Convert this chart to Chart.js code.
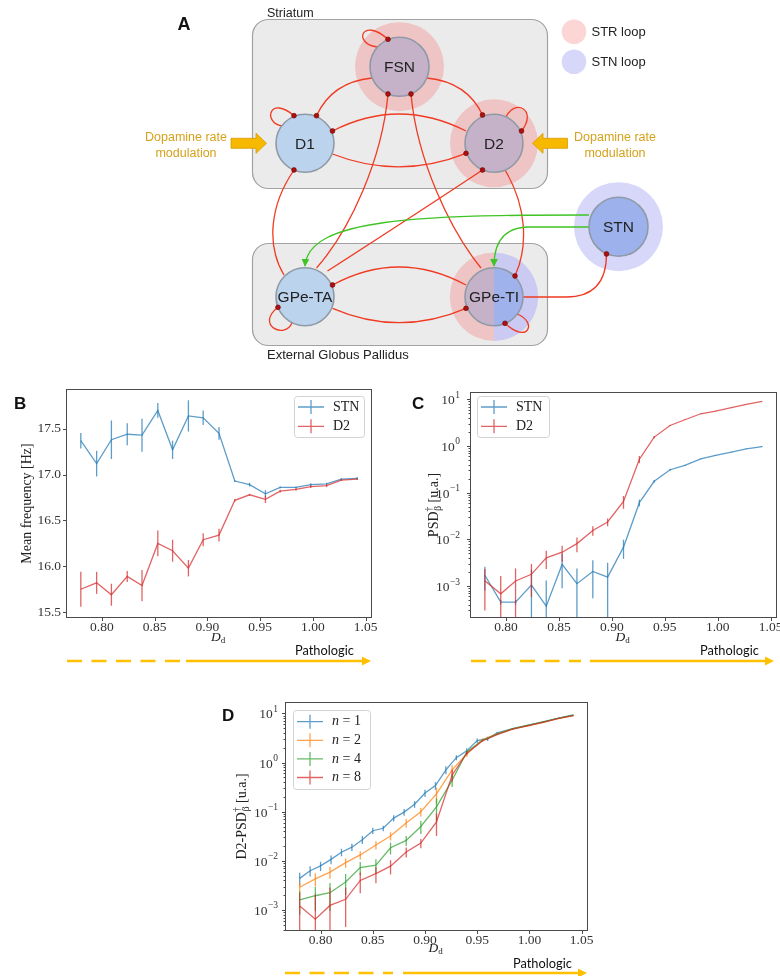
<!DOCTYPE html>
<html><head><meta charset="utf-8">
<script src="https://cdn.jsdelivr.net/npm/chart.js@4.4.1/dist/chart.umd.min.js"></script>
<style>
html,body{margin:0;padding:0;background:#fff;}
body{width:780px;height:976px;position:relative;overflow:hidden;}
canvas.ch{position:absolute;}
#ov{position:absolute;left:0;top:0;width:780px;height:976px;pointer-events:none;}
</style></head>
<body>
<canvas id="cB" class="ch" width="392" height="275" style="left:0px;top:370px;width:392px;height:275px"></canvas>
<canvas id="cC" class="ch" width="400" height="275" style="left:400px;top:370px;width:400px;height:275px"></canvas>
<canvas id="cD" class="ch" width="410" height="270" style="left:200px;top:680px;width:410px;height:270px"></canvas>

<svg id="ov" width="780" height="976" viewBox="0 0 780 976" xmlns="http://www.w3.org/2000/svg">
 <defs>
  <marker id="gArrow" viewBox="0 0 10 10" refX="9" refY="5" markerWidth="6" markerHeight="6" orient="auto">
   <path d="M0,0 L10,5 L0,10 z" fill="#3fc424"/>
  </marker>
 </defs>
 <!-- ===== Panel A diagram ===== -->
 <g font-family="'Liberation Sans', Arial, sans-serif">
  <text x="184" y="30" font-size="18" font-weight="bold" text-anchor="middle" fill="#111">A</text>
  <rect x="252.5" y="19.5" width="295" height="169" rx="16" fill="#ebebeb" stroke="#a2a2a2" stroke-width="1.2"/>
  <text x="267" y="17" font-size="12.5" fill="#222" font-family="'Liberation Sans Narrow','Liberation Sans',sans-serif">Striatum</text>
  <rect x="252.5" y="243.5" width="295" height="102" rx="16" fill="#ebebeb" stroke="#a2a2a2" stroke-width="1.2"/>
  <text x="267" y="358.5" font-size="13" fill="#222" font-family="'Liberation Sans Narrow','Liberation Sans',sans-serif">External Globus Pallidus</text>

  <!-- halos -->
  <circle cx="399.5" cy="66.7" r="44.5" fill="#efc4c4"/>
  <circle cx="494" cy="143.3" r="44" fill="#efc4c4"/>
  <circle cx="618.5" cy="226.7" r="44.5" fill="#d7d7fa"/>
  <path d="M494,252.5 A44.2,44.2 0 0 0 494,340.9 Z" fill="#efc4c4"/>
  <path d="M494,252.5 A44.2,44.2 0 0 1 494,340.9 Z" fill="#cacaf3"/>

  <!-- legend of panel A -->
  <circle cx="574" cy="31.7" r="12.3" fill="#fcd5d5"/>
  <text x="591.5" y="36.3" font-size="13" fill="#222">STR loop</text>
  <circle cx="574" cy="61.7" r="12.3" fill="#d7d7fa"/>
  <text x="591.5" y="66.3" font-size="13" fill="#222">STN loop</text>

  <!-- red connections -->
  <g fill="none" stroke="#f03a22" stroke-width="1.3">
   <path d="M372,78 Q332,82 316.5,115.7"/>
   <path d="M427,78 Q467,82 482.5,115"/>
   <path d="M332.5,131 Q399,97 466,131"/>
   <path d="M332.5,154 Q399,180 466,153.3"/>
   <path d="M388,94 C382,160 350,230 316.5,268"/>
   <path d="M411,94 C417,160 450,230 481,268"/>
   <path d="M294,170 C270,205 266,245 284,275"/>
   <path d="M482.5,170 Q410,218 327.5,271"/>
   <path d="M505,170 C526,205 529,245 515,276"/>
   <path d="M332.5,285 Q399,249 466,285"/>
   <path d="M332.5,308.3 Q399,337 466,308.3"/>
   <path d="M523,297 L566,297 Q606.5,297 606.5,254"/>
   <path d="M377.5,47 C352,44 362,16 388,39.3"/>
   <path d="M282,126 C262,122 270,95 294,115.7"/>
   <path d="M506,117 C515,98 538,110 521.5,131"/>
   <path d="M292,322.7 C285,340 255,325 278,307.3"/>
   <path d="M517,314 C538,322 528,345 505,323.3"/>
  </g>
  <!-- green connections -->
  <g fill="none" stroke="#3fc424" stroke-width="1.3">
   <path d="M589,215 C420,215 308,218 305,266" marker-end="url(#gArrow)"/>
   <path d="M589,227 L528,227 Q494,228 494,266" marker-end="url(#gArrow)"/>
  </g>

  <!-- nodes -->
  <g stroke="#8f9aa6" stroke-width="1.6">
   <circle cx="399.5" cy="66.7" r="29.5" fill="#c5b2c8"/>
   <circle cx="305" cy="143.3" r="29" fill="#bcd3ee"/>
   <circle cx="494" cy="143.3" r="29" fill="#c5b2c8"/>
   <circle cx="305" cy="296.7" r="29" fill="#bcd3ee"/>
   <circle cx="618.5" cy="226.7" r="29.5" fill="#9db1ec"/>
  </g>
  <path d="M494,267.7 A29,29 0 0 0 494,325.7 Z" fill="#c5b2c8"/>
  <path d="M494,267.7 A29,29 0 0 1 494,325.7 Z" fill="#9fb2ec"/>
  <circle cx="494" cy="296.7" r="29" fill="none" stroke="#8f9aa6" stroke-width="1.6"/>

  <!-- synapse dots -->
  <g fill="#b01010" stroke="#600" stroke-width="0.6">
   <circle cx="388" cy="39.3" r="2.4"/><circle cx="388" cy="94" r="2.4"/><circle cx="411" cy="94" r="2.4"/>
   <circle cx="294" cy="115.7" r="2.4"/><circle cx="316.5" cy="115.7" r="2.4"/><circle cx="332.5" cy="131" r="2.4"/><circle cx="294" cy="170" r="2.4"/>
   <circle cx="482.5" cy="115" r="2.4"/><circle cx="521.5" cy="131" r="2.4"/><circle cx="466" cy="153.3" r="2.4"/><circle cx="482.5" cy="170" r="2.4"/>
   <circle cx="332.5" cy="285" r="2.4"/><circle cx="278" cy="307.3" r="2.4"/>
   <circle cx="466" cy="308.3" r="2.4"/><circle cx="515" cy="276" r="2.4"/><circle cx="505" cy="323.3" r="2.4"/>
   <circle cx="606.5" cy="254" r="2.4"/>
  </g>

  <!-- node labels -->
  <g font-size="15.5" fill="#222" text-anchor="middle">
   <text x="399.5" y="72">FSN</text>
   <text x="305" y="148.8">D1</text>
   <text x="494" y="148.8">D2</text>
   <text x="305" y="302.2">GPe-TA</text>
   <text x="494" y="302.2">GPe-TI</text>
   <text x="618.5" y="232.2">STN</text>
  </g>

  <!-- dopamine modulation -->
  <g font-size="12.5" fill="#d6a21c" text-anchor="middle">
   <text x="186" y="141">Dopamine rate</text>
   <text x="186" y="156.5">modulation</text>
   <text x="615" y="141">Dopamine rate</text>
   <text x="615" y="156.5">modulation</text>
  </g>
  <path d="M231,138.3 L256,138.3 L256,133.3 L266.5,143.3 L256,153.3 L256,148.3 L231,148.3 Z" fill="#f7b900" stroke="#d69a00" stroke-width="0.8"/>
  <path d="M567.5,138.3 L543,138.3 L543,133.3 L532.5,143.3 L543,153.3 L543,148.3 L567.5,148.3 Z" fill="#f7b900" stroke="#d69a00" stroke-width="0.8"/>
 </g>

 <!-- ===== panel letters ===== -->
 <g font-family="'Liberation Sans', Arial, sans-serif" font-size="17" font-weight="bold" fill="#111">
  <text x="14" y="408.5">B</text>
  <text x="412" y="408.5">C</text>
  <text x="222" y="720.5">D</text>
 </g>

 <!-- ===== axis titles ===== -->
 <g font-family="'Liberation Serif', 'DejaVu Serif', serif" font-size="14" fill="#222">
  <text transform="translate(31,503.5) rotate(-90)" text-anchor="middle">Mean frequency [Hz]</text>
  <text transform="translate(438,505) rotate(-90)" text-anchor="middle">PSD<tspan font-size="9.5" dy="-6">†</tspan><tspan font-size="9.5" dx="-4" dy="9">β</tspan><tspan dy="-3"> [u.a.]</tspan></text>
  <text transform="translate(246,816.5) rotate(-90)" text-anchor="middle">D2-PSD<tspan font-size="9.5" dy="-6">†</tspan><tspan font-size="9.5" dx="-4" dy="9">β</tspan><tspan dy="-3"> [u.a.]</tspan></text>
 </g>
 <g font-family="'Liberation Serif', 'DejaVu Serif', serif" font-size="13.5" fill="#222">
  <text x="218" y="640.5" text-anchor="middle"><tspan font-style="italic">D</tspan><tspan font-size="9" dy="2.5">d</tspan></text>
  <text x="622.5" y="640.5" text-anchor="middle"><tspan font-style="italic">D</tspan><tspan font-size="9" dy="2.5">d</tspan></text>
  <text x="435.5" y="951.5" text-anchor="middle"><tspan font-style="italic">D</tspan><tspan font-size="9" dy="2.5">d</tspan></text>
 </g>

 <!-- ===== Pathologic arrows ===== -->
 <g font-family="Lato, 'Open Sans', sans-serif" font-size="12.8" fill="#111">
  <text x="295" y="654.5">Pathologic</text>
  <text x="700" y="655">Pathologic</text>
  <text x="513" y="968">Pathologic</text>
 </g>
 <g stroke="#ffc000" stroke-width="2.4" fill="none">
  <line x1="67" y1="661" x2="183" y2="661" stroke-dasharray="15 9.5"/>
  <line x1="186" y1="661" x2="364" y2="661"/>
  <line x1="471" y1="661" x2="581" y2="661" stroke-dasharray="15 9.5"/>
  <line x1="590" y1="661" x2="767" y2="661"/>
  <line x1="285" y1="973" x2="393" y2="973" stroke-dasharray="15 9.5"/>
  <line x1="403" y1="973" x2="580" y2="973"/>
 </g>
 <g fill="#ffc000">
  <path d="M362,656.5 L371,661 L362,665.5 Z"/>
  <path d="M765,656.5 L774,661 L765,665.5 Z"/>
  <path d="M578,968.5 L587,973 L578,977.5 Z"/>
 </g>
</svg>

<script>
// ================= DATA =================
const dd = [0.780,0.795,0.809,0.824,0.838,0.853,0.867,0.882,0.896,0.911,0.926,0.940,0.955,0.969,0.984,0.998,1.013,1.027,1.042];

// Panel B: mean frequency [Hz]
const stnFreq    = [17.37,17.12,17.38,17.44,17.43,17.70,17.27,17.64,17.62,17.45,16.93,16.89,16.79,16.86,16.86,16.89,16.90,16.95,16.96];
const stnFreqErr = [0.085,0.14,0.21,0.12,0.18,0.08,0.10,0.17,0.08,0.07,0.01,0.02,0.04,0.01,0.01,0.015,0.01,0.01,0.015];
const d2Freq     = [15.75,15.82,15.69,15.89,15.79,16.25,16.17,15.98,16.29,16.34,16.72,16.78,16.73,16.82,16.84,16.87,16.88,16.94,16.95];
const d2FreqErr  = [0.19,0.12,0.12,0.06,0.17,0.14,0.12,0.09,0.07,0.07,0.015,0.01,0.04,0.015,0.015,0.015,0.015,0.01,0.01];

// Panel C: beta PSD [u.a.]
const stnPsd    = [1.7e-3,4.5e-4,4.5e-4,1.05e-3,3.7e-4,2.9e-3,1.12e-3,2.05e-3,1.55e-3,6.8e-3,0.061,0.175,0.31,0.385,0.53,0.63,0.74,0.87,0.97];
const stnPsdErr = [0.9e-3,0.5e-4,0.5e-4,1.2e-3,0.95e-3,2.0e-3,1.25e-3,1.5e-3,1.6e-3,3.0e-3,0.01,0.012,0.015,0.01,0.01,0.01,0.01,0.01,0.02];
const d2Psd     = [1.3e-3,6.8e-4,1.28e-3,1.78e-3,4.0e-3,5.3e-3,8.1e-3,1.55e-2,2.35e-2,0.065,0.52,1.55,2.75,3.65,4.9,5.6,6.6,7.8,9.0];
const d2PsdErr  = [1.0e-3,0.95e-3,1.1e-3,1.2e-3,1.7e-3,2.0e-3,2.8e-3,3.5e-3,4.5e-3,0.02,0.09,0.08,0.08,0.06,0.06,0.06,0.06,0.06,0.06];

// Panel D: D2 beta PSD for n = 1, 2, 4, 8
const ddN1   = [0.78,0.79,0.80,0.81,0.82,0.83,0.84,0.85,0.86,0.87,0.88,0.89,0.90,0.91,0.92,0.93,0.94,0.95,0.96,0.969,0.984,0.998,1.013,1.027,1.042];
const n1Psd  = [4.4e-3,6.3e-3,7.9e-3,1.07e-2,1.5e-2,1.9e-2,2.7e-2,4.1e-2,4.6e-2,7.4e-2,9.8e-2,0.142,0.24,0.34,0.71,1.26,1.73,2.8,3.05,4.0,4.9,5.7,6.7,7.9,9.3];
const n1Err  = [1.3e-3,1.5e-3,1.7e-3,2.2e-3,2.6e-3,3.2e-3,5e-3,6e-3,6e-3,1.1e-2,1.5e-2,2.2e-2,0.04,0.06,0.13,0.15,0.22,0.3,0.3,0.15,0.12,0.1,0.1,0.1,0.1];
const n2Psd  = [2.9e-3,4.3e-3,5.9e-3,9.2e-3,1.32e-2,2.1e-2,3.2e-2,5.9e-2,0.1,0.23,0.71,1.5,2.95,3.85,4.85,5.6,6.6,7.8,9.0];
const n2Err  = [0.8e-3,1.3e-3,1.6e-3,2e-3,2.5e-3,4e-3,6e-3,1.2e-2,0.02,0.08,0.17,0.2,0.15,0.1,0.1,0.1,0.1,0.1,0.1];
const n4Psd  = [1.6e-3,1.95e-3,2.25e-3,3.7e-3,7.3e-3,8.2e-3,1.85e-2,2.6e-2,0.05,0.125,0.44,1.65,2.85,3.8,4.9,5.7,6.7,7.9,9.2];
const n4Err  = [0.8e-3,1.0e-3,1.3e-3,1.7e-3,2.2e-3,2.6e-3,5e-3,6e-3,0.015,0.06,0.12,0.15,0.12,0.1,0.1,0.1,0.1,0.1,0.1];
const n8Psd  = [1.2e-3,6.5e-4,1.24e-3,1.65e-3,4.0e-3,5.5e-3,7.8e-3,1.52e-2,2.3e-2,0.062,0.56,1.55,2.75,3.7,4.8,5.6,6.6,7.8,9.0];
const n8Err  = [1.0e-3,1.45e-3,1.6e-3,1.2e-3,1.8e-3,2.0e-3,2.5e-3,3.5e-3,5e-3,0.03,0.15,0.12,0.1,0.08,0.08,0.08,0.08,0.08,0.08];

// Tick values / labels
const xTicks       = [0.80,0.85,0.90,0.95,1.00,1.05];
const freqTicks    = [15.5,16.0,16.5,17.0,17.5];
const logTicks     = [1e-3,1e-2,1e-1,1,10];
const logTickExp   = ['−3','−2','−1','0','1'];   // labels 10^exp
// axis limits (log panels)
const psdLimC = [Math.pow(10,-3.664), Math.pow(10,1.135)];
const psdLimD = [Math.pow(10,-3.407), Math.pow(10,1.212)];

// ================= helpers =================
const COL = {
  blue:'rgba(31,119,180,0.72)', orange:'rgba(255,127,14,0.72)',
  green:'rgba(44,160,44,0.72)', red:'rgba(214,39,40,0.72)'
};
function pad5(lo, hi){ const r = hi-lo; return [lo-0.05*r, hi+0.05*r]; }
const xLim = pad5(Math.min(...dd, ...ddN1), Math.max(...dd, ...ddN1));
const freqLim = pad5(
  Math.min(...stnFreq.map((v,i)=>v-stnFreqErr[i]), ...d2Freq.map((v,i)=>v-d2FreqErr[i])),
  Math.max(...stnFreq.map((v,i)=>v+stnFreqErr[i]), ...d2Freq.map((v,i)=>v+d2FreqErr[i])));

function series(label, xs, ys, errs, color, order){
  return {label, data: xs.map((x,i)=>({x, y: ys[i]})), yErr: errs,
    borderColor: color, backgroundColor: color, showLine: true, pointRadius: 0,
    borderWidth: 1.3, order, clip: 0};
}

const SERIF = "'Liberation Serif', 'DejaVu Serif', serif";

// error bars, drawn right after each dataset line
const errorBars = {
  id:'errorBars',
  afterDatasetDraw(chart, args){
    const ds = chart.data.datasets[args.index];
    if(!ds.yErr) return;
    const {ctx, chartArea:a, scales:{x,y}} = chart;
    ctx.save();
    ctx.beginPath(); ctx.rect(a.left, a.top, a.right-a.left, a.bottom-a.top); ctx.clip();
    ctx.strokeStyle = ds.borderColor; ctx.lineWidth = 1.3;
    ds.data.forEach((p,i)=>{
      const e = ds.yErr[i]; if(!e) return;
      const px = x.getPixelForValue(p.x);
      let lo = p.y - e, hi = p.y + e;
      let pLo;
      if(y.type==='logarithmic' && lo <= y.min) pLo = a.bottom + 2; else pLo = y.getPixelForValue(lo);
      const pHi = y.getPixelForValue(hi);
      ctx.beginPath(); ctx.moveTo(px, pLo); ctx.lineTo(px, pHi); ctx.stroke();
    });
    ctx.restore();
  }
};

// matplotlib-like frame + outward ticks (+ mathtext-like log labels)
const mplAxes = {
  id:'mplAxes',
  afterDraw(chart, args, o){
    const {ctx, chartArea:a, scales:{x,y}} = chart;
    ctx.save();
    ctx.strokeStyle = '#4a4a4a'; ctx.lineWidth = 1;
    const L = Math.round(a.left)-0.5, T = Math.round(a.top)-0.5, R = Math.round(a.right)+0.5, B = Math.round(a.bottom)+0.5;
    ctx.strokeRect(L, T, R-L, B-T);
    ctx.beginPath();
    x.ticks.forEach(t=>{ const px = Math.round(x.getPixelForValue(t.value))+0.5; ctx.moveTo(px,B); ctx.lineTo(px,B+3.5); });
    y.ticks.forEach(t=>{ const py = Math.round(y.getPixelForValue(t.value))+0.5; ctx.moveTo(L,py); ctx.lineTo(L-3.5,py); });
    ctx.stroke();
    if(y.type==='logarithmic'){
      ctx.beginPath();
      for(let k=-5;k<=2;k++){
        for(let m=2;m<=9;m++){
          const v = m*Math.pow(10,k);
          if(v<y.min || v>y.max) continue;
          const py = Math.round(y.getPixelForValue(v))+0.5;
          ctx.moveTo(L,py); ctx.lineTo(L-2,py);
        }
      }
      ctx.stroke();
      // labels 10^k
      const gap = (o && o.logGap) || 9;
      ctx.fillStyle = '#333'; ctx.textAlign = 'left'; ctx.textBaseline = 'alphabetic';
      logTicks.forEach((v,i)=>{
        if(v<y.min || v>y.max) return;
        const py = y.getPixelForValue(v);
        ctx.font = '13.5px ' + SERIF; const wb = ctx.measureText('10').width;
        ctx.font = '9.5px ' + SERIF; const we = ctx.measureText(logTickExp[i]).width;
        const x0 = L - gap - we - wb;
        ctx.font = '13.5px ' + SERIF; ctx.fillText('10', x0, py + 5);
        ctx.font = '9.5px ' + SERIF; ctx.fillText(logTickExp[i], x0 + wb + 0.5, py - 1.5);
      });
    }
    ctx.restore();
  }
};

// matplotlib-like legend for errorbar series
const mplLegend = {
  id:'mplLegend',
  afterDraw(chart, args, o){
    if(!o || !o.w) return;
    const {ctx, chartArea:a} = chart;
    const bx = o.align==='right' ? a.right - o.dx - o.w : a.left + o.dx;
    const by = a.top + o.dy;
    ctx.save();
    ctx.fillStyle = 'rgba(255,255,255,0.85)'; ctx.strokeStyle = '#d2d2d2'; ctx.lineWidth = 1;
    ctx.beginPath(); ctx.roundRect(bx+0.5, by+0.5, o.w, o.h, 3); ctx.fill(); ctx.stroke();
    const dsets = chart.data.datasets;
    dsets.forEach((ds,i)=>{
      const cy = by + o.first + i*o.step;
      ctx.strokeStyle = ds.borderColor; ctx.lineWidth = 1.3;
      ctx.beginPath(); ctx.moveTo(bx+4, cy); ctx.lineTo(bx+30, cy);
      ctx.moveTo(bx+17, cy-7); ctx.lineTo(bx+17, cy+7); ctx.stroke();
      ctx.fillStyle = '#222'; ctx.textBaseline = 'middle'; ctx.textAlign='left';
      const tx = bx + 39;
      if(o.italicPrefix){
        ctx.font = 'italic 14px ' + SERIF;
        ctx.fillText('n', tx, cy);
        const w = ctx.measureText('n').width;
        ctx.font = '14px ' + SERIF;
        ctx.fillText(' = ' + ds.label.split('=')[1].trim(), tx + w, cy);
      } else {
        ctx.font = '14px ' + SERIF;
        ctx.fillText(ds.label, tx, cy);
      }
    });
    ctx.restore();
  }
};

function axisX(height){
  return {type:'linear', min:xLim[0], max:xLim[1],
    afterBuildTicks: s=>{ s.ticks = xTicks.map(v=>({value:v})); },
    afterFit: s=>{ s.height = height; },
    grid:{display:false, drawTicks:false}, border:{display:false},
    ticks:{font:{family:SERIF,size:13.5}, color:'#333', padding:2, maxRotation:0, autoSkip:false,
      callback:v=>Number(v).toFixed(2)}};
}
function axisYLin(width){
  return {type:'linear', min:freqLim[0], max:freqLim[1],
    afterBuildTicks: s=>{ s.ticks = freqTicks.map(v=>({value:v})); },
    afterFit: s=>{ s.width = width; },
    grid:{display:false, drawTicks:false}, border:{display:false},
    ticks:{font:{family:SERIF,size:13.5}, color:'#333', padding:6, autoSkip:false,
      callback:v=>Number(v).toFixed(1)}};
}
function axisYLog(width, lim){
  return {type:'logarithmic', min:lim[0], max:lim[1],
    afterBuildTicks: s=>{ s.ticks = logTicks.map(v=>({value:v, major:true})); },
    afterFit: s=>{ s.width = width; },
    grid:{display:false, drawTicks:false}, border:{display:false},
    ticks:{font:{family:SERIF,size:13.5}, color:'#333', padding:6, autoSkip:false,
      callback:()=>''}};
}
const common = {responsive:false, animation:false, devicePixelRatio:1, events:[]};

// ---- Panel B ----
new Chart(document.getElementById('cB'), {
  type:'scatter',
  data:{datasets:[
    series('STN', dd, stnFreq, stnFreqErr, COL.blue, 2),
    series('D2',  dd, d2Freq,  d2FreqErr,  COL.red, 1)
  ]},
  options:Object.assign({}, common, {
    layout:{padding:{left:0, top:20, right:21, bottom:0}},
    scales:{x:axisX(28), y:axisYLin(67)},
    plugins:{legend:{display:false}, tooltip:{enabled:false},
      mplLegend:{align:'right', dx:7, dy:6, w:70, h:41, first:11, step:19.3}}
  }),
  plugins:[errorBars, mplAxes, mplLegend]
});

// ---- Panel C ----
new Chart(document.getElementById('cC'), {
  type:'scatter',
  data:{datasets:[
    series('STN', dd, stnPsd, stnPsdErr, COL.blue, 2),
    series('D2',  dd, d2Psd,  d2PsdErr,  COL.red, 1)
  ]},
  options:Object.assign({}, common, {
    layout:{padding:{left:0, top:23, right:24, bottom:0}},
    scales:{x:axisX(28), y:axisYLog(71, psdLimC)},
    plugins:{legend:{display:false}, tooltip:{enabled:false},
      mplAxes:{logGap:11},
      mplLegend:{align:'left', dx:6, dy:3, w:72, h:41, first:11, step:19.3}}
  }),
  plugins:[errorBars, mplAxes, mplLegend]
});

// ---- Panel D ----
new Chart(document.getElementById('cD'), {
  type:'scatter',
  data:{datasets:[
    series('n = 1', ddN1, n1Psd, n1Err, COL.blue, 4),
    series('n = 2', dd,   n2Psd, n2Err, COL.orange, 3),
    series('n = 4', dd,   n4Psd, n4Err, COL.green, 2),
    series('n = 8', dd,   n8Psd, n8Err, COL.red, 1)
  ]},
  options:Object.assign({}, common, {
    layout:{padding:{left:0, top:23, right:23, bottom:0}},
    scales:{x:axisX(20), y:axisYLog(86, psdLimD)},
    plugins:{legend:{display:false}, tooltip:{enabled:false},
      mplAxes:{logGap:8},
      mplLegend:{align:'left', dx:7, dy:7, w:77, h:79, first:11.7, step:18.6, italicPrefix:true}}
  }),
  plugins:[errorBars, mplAxes, mplLegend]
});
</script>
</body></html>
